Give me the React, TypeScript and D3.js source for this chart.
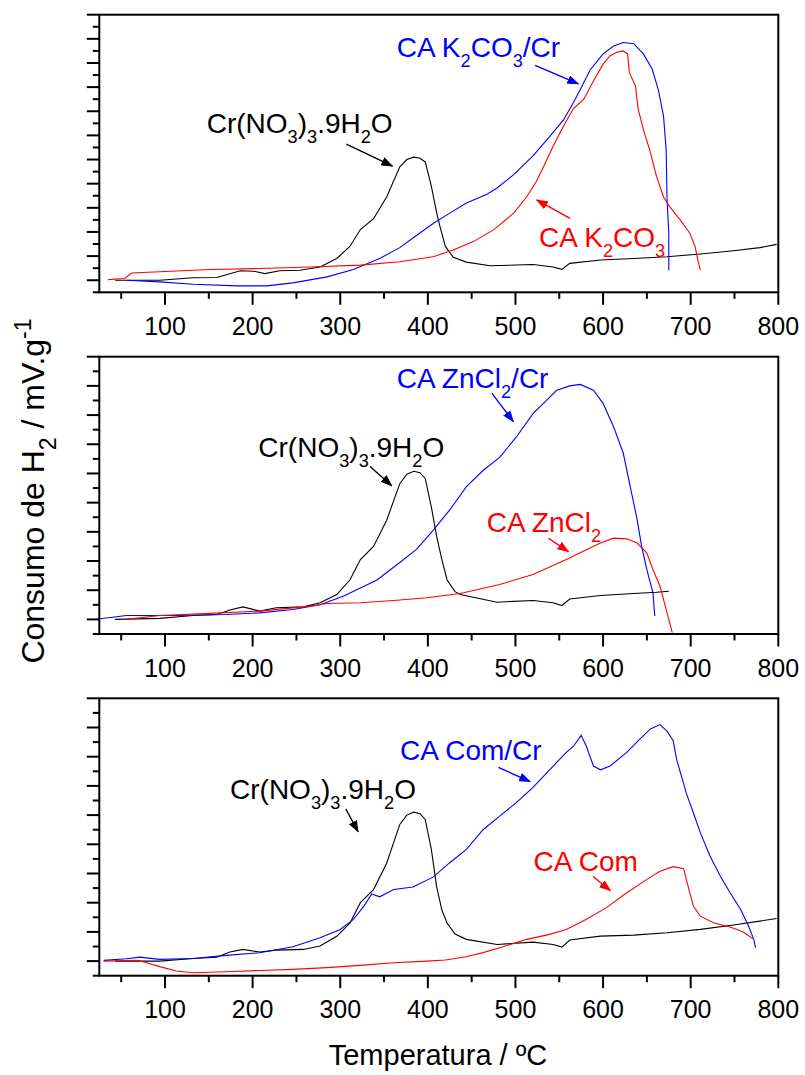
import React from "react";
import * as d3 from "d3";

type Pt = [number, number];

// ---------- tick values ----------
const xMajorTicks = [100, 200, 300, 400, 500, 600, 700, 800];
const xMinorTicks = [50, 150, 250, 350, 450, 550, 650, 750];
const xDomain: [number, number] = [25, 800];

// ---------- Panel 1 (K2CO3) ----------
const p1Black: Pt[] = [[43,0],[94,0],[132,0.2],[159,0.22],[186,0.78],[201,0.75],[214,0.55],[231,0.78],[254,0.83],[277,1.1],[296,1.8],[311,2.8],[323,4.2],[338,5.1],[353,6.9],[368,9.4],[376,10.0],[384,10.2],[391,10.1],[397,9.8],[404,7.8],[410,5.6],[414,4.4],[420,2.8],[429,1.9],[444,1.5],[471,1.2],[520,1.3],[543,1.1],[553,0.9],[562,1.4],[597,1.67],[635,1.8],[673,1.95],[711,2.17],[749,2.44],[779,2.7],[798,2.97]];
const p1Blue: Pt[] = [[56,0],[94,-0.14],[132,-0.33],[182,-0.47],[216,-0.47],[246,-0.22],[285,0.28],[315,0.89],[345,1.8],[368,2.7],[383,3.5],[406,4.7],[425,5.56],[444,6.4],[467,7.1],[479,7.64],[498,8.75],[520,10.3],[539,11.9],[555,13.3],[566,14.7],[574,15.8],[585,17.4],[600,18.75],[612,19.4],[623,19.7],[635,19.6],[646,18.75],[656,17.5],[663,15.8],[669,13.6],[672,10.8],[673,6.7],[675,3.9],[675,0.83]];
const p1Red: Pt[] = [[35,0.05],[54,0.14],[62,0.6],[94,0.7],[151,0.89],[208,0.97],[266,1.1],[323,1.25],[368,1.53],[406,1.94],[429,2.5],[452,3.2],[475,4.17],[498,5.56],[513,6.94],[524,8.2],[532,9.4],[543,11.1],[555,12.8],[566,14.2],[578,15],[589,16.5],[600,17.9],[608,18.6],[616,18.9],[623,19.0],[628,18.75],[630,17.2],[637,16.1],[640,14.2],[646,12.5],[654,10.6],[661,8.6],[669,6.9],[676,6.1],[688,5.0],[699,3.9],[705,2.8],[709,1.4],[711,0.83]];

// ---------- Panel 2 (ZnCl2) ----------
const p2Black: Pt[] = [[43,0],[94,0.07],[132,0.27],[159,0.34],[174,0.64],[189,0.86],[208,0.57],[227,0.8],[258,0.86],[277,1.14],[296,1.7],[311,2.7],[323,4.1],[338,5.0],[353,6.8],[368,9.3],[376,9.95],[384,10.15],[391,10.05],[397,9.66],[404,7.7],[410,5.7],[416,4.1],[422,2.7],[431,1.9],[437,1.7],[479,1.18],[520,1.3],[543,1.14],[553,0.95],[562,1.4],[597,1.64],[635,1.77],[661,1.86],[675,1.93]];
const p2Blue: Pt[] = [[26,0.05],[56,0.27],[113,0.27],[170,0.34],[208,0.45],[246,0.68],[277,1.0],[304,1.6],[342,2.7],[368,3.9],[387,4.8],[406,6.1],[425,7.5],[444,9.1],[463,10.2],[482,11.1],[501,12.5],[520,14.1],[532,14.8],[547,15.7],[562,16.0],[574,16.1],[589,15.7],[600,14.8],[612,13.2],[623,11.4],[631,9.1],[639,6.8],[644,5.0],[650,3.4],[657,1.8],[659,0.23]];
const p2Red: Pt[] = [[56,0],[94,0.27],[151,0.41],[208,0.57],[266,0.91],[285,1.09],[323,1.14],[361,1.3],[399,1.48],[437,1.77],[482,2.39],[520,3.07],[558,4.1],[581,4.77],[597,5.23],[612,5.57],[627,5.52],[639,5.23],[650,4.55],[657,3.4],[665,2.27],[671,0.91],[675,0],[679,-0.9]];

// ---------- Panel 3 (Com) ----------
const p3Black: Pt[] = [[43,0],[94,0],[132,0.18],[159,0.27],[174,0.62],[189,0.8],[208,0.62],[227,0.75],[258,0.8],[277,1.03],[296,1.7],[311,2.6],[323,4.0],[338,4.9],[353,6.7],[368,9.36],[376,10.0],[384,10.2],[391,10.1],[397,9.7],[404,7.65],[410,5.1],[416,3.5],[422,2.6],[431,1.85],[444,1.49],[479,1.14],[520,1.3],[543,1.14],[553,0.96],[562,1.44],[597,1.71],[635,1.78],[673,1.94],[711,2.17],[749,2.47],[779,2.74],[798,2.92]];
const p3Blue: Pt[] = [[30,0.05],[56,0.16],[71,0.27],[94,0.12],[132,0.18],[170,0.39],[208,0.57],[246,0.98],[277,1.6],[300,2.17],[315,2.86],[327,3.77],[336,4.6],[345,4.4],[361,4.9],[383,5.07],[406,5.75],[425,6.74],[444,7.65],[463,9.0],[482,9.93],[501,10.85],[520,11.9],[539,13.1],[558,14.3],[566,14.7],[575,15.46],[581,14.7],[589,13.36],[597,13.1],[608,13.36],[627,14.3],[642,15.2],[654,15.9],[665,16.2],[673,15.75],[680,15.1],[684,13.8],[695,11.5],[703,10.16],[711,8.8],[722,7.2],[734,5.8],[745,4.68],[757,3.54],[766,2.4],[772,1.49],[774,0.92]];
const p3Red: Pt[] = [[30,0],[68,0.05],[78,-0.1],[94,-0.38],[113,-0.68],[132,-0.8],[170,-0.73],[208,-0.64],[246,-0.57],[285,-0.45],[323,-0.29],[361,-0.11],[399,0],[420,0.08],[444,0.3],[463,0.58],[482,0.92],[500,1.25],[513,1.49],[539,1.83],[558,2.17],[581,2.86],[604,3.66],[627,4.68],[650,5.6],[665,6.16],[680,6.47],[692,6.33],[695,5.6],[699,4.68],[703,3.77],[711,3.08],[726,2.63],[745,2.33],[760,1.99],[772,1.49]];

// ---------- labels (text segments) ----------
type Seg = { t: string; sub?: boolean; sup?: boolean };
const crLabel: Seg[] = [{ t: "Cr(NO" }, { t: "3", sub: true }, { t: ")" }, { t: "3", sub: true }, { t: ".9H" }, { t: "2", sub: true }, { t: "O" }];
const k2co3CrLabel: Seg[] = [{ t: "CA K" }, { t: "2", sub: true }, { t: "CO" }, { t: "3", sub: true }, { t: "/Cr" }];
const k2co3Label: Seg[] = [{ t: "CA K" }, { t: "2", sub: true }, { t: "CO" }, { t: "3", sub: true }];
const zncl2CrLabel: Seg[] = [{ t: "CA ZnCl" }, { t: "2", sub: true }, { t: "/Cr" }];
const zncl2Label: Seg[] = [{ t: "CA ZnCl" }, { t: "2", sub: true }];
const comCrLabel: Seg[] = [{ t: "CA Com/Cr" }];
const comLabel: Seg[] = [{ t: "CA Com" }];
const yTitle: Seg[] = [{ t: "Consumo de H" }, { t: "2", sub: true }, { t: " / mV.g" }, { t: "-1", sup: true }];
const xTitle = "Temperatura / ºC";

// annotation anchors in data units: [x, y]
type Note = { segs: Seg[]; color: string; at: Pt; from: Pt; to: Pt };
const p1Notes: Note[] = [
  { segs: crLabel, color: "#000", at: [147.6, 12.2], from: [307, 11.28], to: [359.6, 9.46] },
  { segs: k2co3CrLabel, color: "#0000ff", at: [364.5, 18.47], from: [522.4, 17.8], to: [571.8, 16.26] },
  { segs: k2co3Label, color: "#ff0000", at: [527, 2.78], from: [562.3, 5.12], to: [524.2, 6.65] },
];
const p2Notes: Note[] = [
  { segs: crLabel, color: "#000", at: [206.5, 11.15], from: [334, 10.47], to: [358.8, 9.16] },
  { segs: zncl2CrLabel, color: "#0000ff", at: [364.5, 15.84], from: [473, 15.5], to: [497.6, 13.55] },
  { segs: zncl2Label, color: "#ff0000", at: [467.2, 6.01], from: [537.6, 5.56], to: [560.5, 4.64] },
];
const p3Notes: Note[] = [
  { segs: crLabel, color: "#000", at: [174.2, 11.08], from: [306.4, 10.42], to: [320.4, 8.86] },
  { segs: comCrLabel, color: "#0000ff", at: [368.3, 13.77], from: [480.5, 13.27], to: [516.7, 12.29] },
  { segs: comLabel, color: "#ff0000", at: [520.7, 6.19], from: [588.6, 5.79], to: [608.4, 4.82] },
];

// ---------- layout ----------
const W = 805, H = 1075;
const FRAME_L = 99.3, FRAME_R = 778.3;
const FONT = "'Liberation Sans', Arial, Helvetica, sans-serif";
const COLORS = { black: "#000000", blue: "#0000ff", red: "#ff0000" };

type Panel = {
  top: number; bottom: number; yDomain: [number, number];
  black: Pt[]; blue: Pt[]; red: Pt[]; notes: Note[];
};
const panels: Panel[] = [
  { top: 14.7, bottom: 292.3, yDomain: [-1, 22], black: p1Black, blue: p1Blue, red: p1Red, notes: p1Notes },
  { top: 356.7, bottom: 634, yDomain: [-1, 18], black: p2Black, blue: p2Blue, red: p2Red, notes: p2Notes },
  { top: 698.3, bottom: 975.7, yDomain: [-1, 18], black: p3Black, blue: p3Blue, red: p3Red, notes: p3Notes },
];

function Rich({ segs, x, y, size, fill, anchor = "start", transform, scriptScale = 0.65 }: {
  segs: Seg[]; x: number; y: number; size: number; fill: string; anchor?: string; transform?: string; scriptScale?: number;
}) {
  let shift = 0;
  const kids = segs.map((s, i) => {
    const target = s.sub ? size * 0.36 : s.sup ? -size * 0.42 : 0;
    const dy = target - shift;
    shift = target;
    return (
      <tspan key={i} dy={dy} fontSize={s.sub || s.sup ? size * scriptScale : size}>{s.t}</tspan>
    );
  });
  return (
    <text x={x} y={y} fill={fill} fontSize={size} fontFamily={FONT} textAnchor={anchor}
      transform={transform} style={{ whiteSpace: "pre" }}>{kids}</text>
  );
}

const MAJ = 12.5, MIN = 6.5;

function PanelView({ p }: { p: Panel }) {
  const x = d3.scaleLinear().domain(xDomain).range([FRAME_L, FRAME_R]);
  const y = d3.scaleLinear().domain(p.yDomain).range([p.bottom, p.top]);
  const line = d3.line<Pt>().x((d) => x(d[0])).y((d) => y(d[1]));
  const yTicks = d3.range(Math.ceil(p.yDomain[0]), Math.floor(p.yDomain[1]) + 1);
  return (
    <g>
      <path d={line(p.black) || ""} fill="none" stroke={COLORS.black} strokeWidth={1.1} />
      <path d={line(p.blue) || ""} fill="none" stroke={COLORS.blue} strokeWidth={1.1} />
      <path d={line(p.red) || ""} fill="none" stroke={COLORS.red} strokeWidth={1.1} />
      {p.notes.map((n, i) => {
        const mk = n.color === "#000" ? "arrK" : n.color === "#0000ff" ? "arrB" : "arrR";
        return (
          <g key={i}>
            <Rich segs={n.segs} x={x(n.at[0])} y={y(n.at[1])} size={28} fill={n.color} />
            <line x1={x(n.from[0])} y1={y(n.from[1])} x2={x(n.to[0])} y2={y(n.to[1])}
              stroke={n.color} strokeWidth={1.4} markerEnd={`url(#${mk})`} />
          </g>
        );
      })}
      <rect x={FRAME_L} y={p.top} width={FRAME_R - FRAME_L} height={p.bottom - p.top}
        fill="none" stroke="#000" strokeWidth={2} />
      {yTicks.map((t) => {
        const major = t % 2 === 0;
        return <line key={"y" + t} x1={FRAME_L} x2={FRAME_L - (major ? MAJ : MIN)} y1={y(t)} y2={y(t)} stroke="#000" strokeWidth={2} />;
      })}
      {xMajorTicks.map((t) => (
        <g key={"xm" + t}>
          <line x1={x(t)} x2={x(t)} y1={p.bottom} y2={p.bottom + MAJ} stroke="#000" strokeWidth={2} />
          <text x={x(t)} y={p.bottom + 42.6} textAnchor="middle" fontSize={25} fontFamily={FONT} fill="#000">{t}</text>
        </g>
      ))}
      {xMinorTicks.map((t) => (
        <line key={"xn" + t} x1={x(t)} x2={x(t)} y1={p.bottom} y2={p.bottom + MIN} stroke="#000" strokeWidth={2} />
      ))}
    </g>
  );
}

export default function App() {
  return (
    <svg width={W} height={H} viewBox={`0 0 ${W} ${H}`}
      style={{ position: "absolute", left: 0, top: 0, display: "block", background: "#fff" }}>
      <defs>
        {[["arrK", "#000"], ["arrB", "#0000ff"], ["arrR", "#ff0000"]].map(([id, c]) => (
          <marker key={id} id={id} markerUnits="userSpaceOnUse" markerWidth={12} markerHeight={9}
            refX={11} refY={4.5} orient="auto">
            <path d="M0,0 L12,4.5 L0,9 Z" fill={c} />
          </marker>
        ))}
      </defs>
      <rect x={0} y={0} width={W} height={H} fill="#fff" />
      {panels.map((p, i) => <PanelView key={i} p={p} />)}
      <text x={438} y={1065} textAnchor="middle" fontSize={29} fontFamily={FONT} fill="#000">{xTitle}</text>
      <Rich segs={yTitle} x={0} y={0} size={32} fill="#000" anchor="middle" scriptScale={0.72}
        transform="translate(44,491) rotate(-90)" />
    </svg>
  );
}
